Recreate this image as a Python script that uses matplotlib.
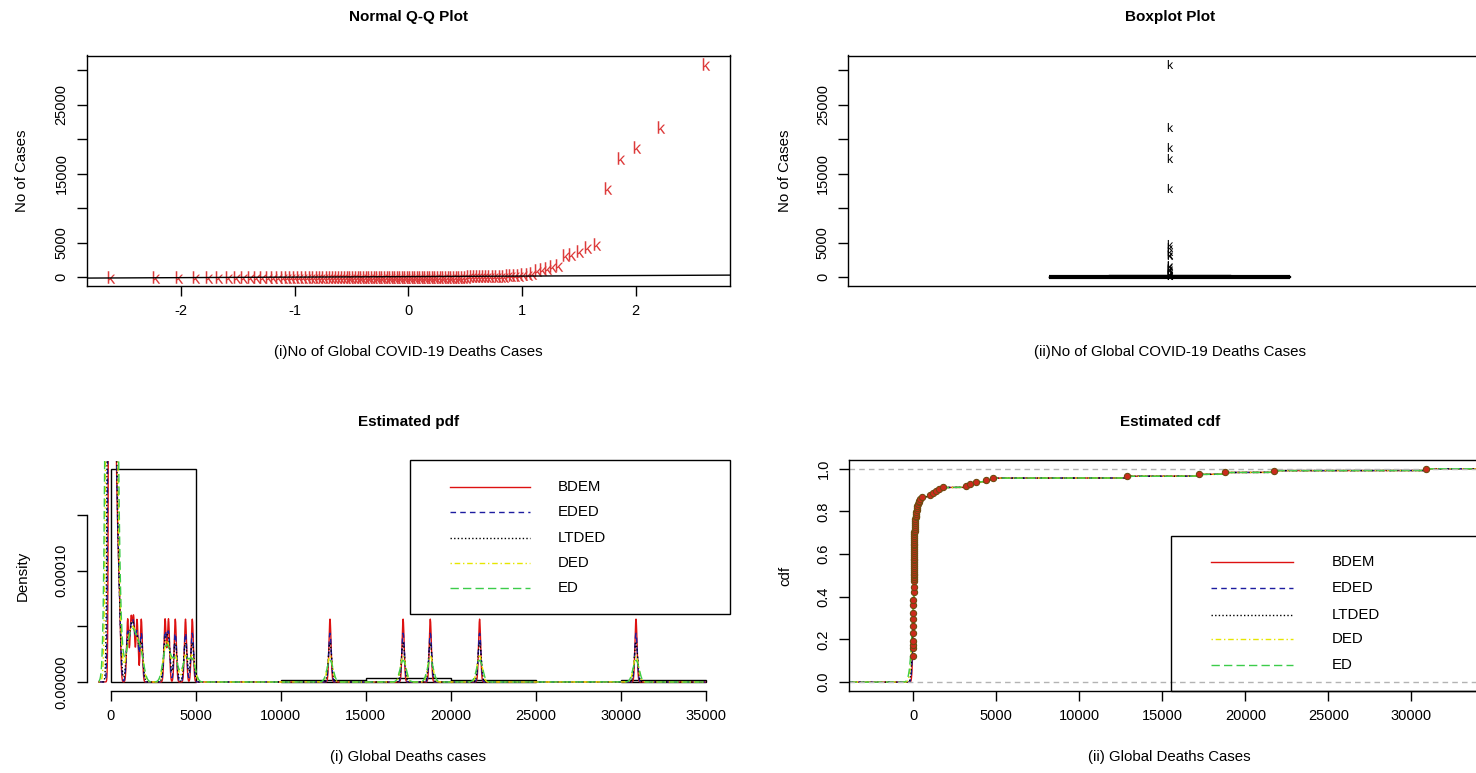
import numpy as np
import matplotlib
matplotlib.use('Agg')
import matplotlib.pyplot as plt
from matplotlib.patches import Rectangle
from math import erf, sqrt

plt.rcParams['font.family'] = ['Liberation Sans', 'DejaVu Sans']
plt.rcParams['axes.linewidth'] = 1.0
plt.rcParams['axes.unicode_minus'] = False
plt.rcParams['mathtext.fontset'] = 'custom'
plt.rcParams['mathtext.rm'] = 'Liberation Sans'

deaths = [0, 0, 0, 0, 0, 0, 0, 0, 0, 0, 0, 0, 0, 0,
          1, 1, 1, 1, 2, 2, 3, 3, 4, 4, 4, 4, 5, 5, 5, 5, 6, 6, 6, 6,
          7, 7, 7, 8, 8, 8, 8, 9, 9, 9, 10, 10, 10, 10, 12, 12, 12, 13, 13, 13,
          14, 15, 16, 17, 18, 19, 20, 21, 22, 24, 25, 27, 28, 30, 32, 34, 36, 38,
          40, 43, 46, 50, 53, 57, 62, 67, 72, 78, 85, 92, 100, 110, 120, 132, 145,
          160, 178, 198, 220, 248, 280, 320, 370, 430, 520,
          1000, 1200, 1350, 1550, 1800,
          3200, 3400, 3800, 4400, 4800,
          12900, 17200, 18800, 21700, 30900]

# estimators shown in pdf / cdf panels
est_names = ['BDEM', 'EDED', 'LTDED', 'DED', 'ED']
est_colors = ['#dd1111', '#1c1ca0', 'black', '#e6e600', '#3ccc4a']
est_styles = ['-', (0, (4, 3)), (0, (1, 1.6)), (0, (1, 2, 4, 2)), (0, (6, 3))]
est_bw = [62, 80, 100, 150, 180]

x = np.array(deaths, dtype=float)
n = len(x)

W, H = 1476, 773
fig = plt.figure(figsize=(W / 100, H / 100), dpi=100)
K = r'$\mathrm{k}$'


def pos(l, t, r, b):
    return [l / W, 1 - b / H, (r - l) / W, (b - t) / H]


def style_ticks(ax):
    ax.tick_params(direction='out', length=7, width=1, pad=6, labelsize=10.5, colors='black')
    for lab in ax.get_yticklabels():
        lab.set_rotation(90)
        lab.set_va('center')


def titles(ax, title, xlab, ylab, ylx):
    ax.text(0.5, 1.167, title, transform=ax.transAxes, ha='center', va='center',
            fontsize=11, fontweight='bold')
    ax.set_xlabel(xlab, fontsize=10.8, va='center')
    ax.xaxis.set_label_coords(0.5, -0.289)
    ax.set_ylabel(ylab, fontsize=10.8, va='center')
    ax.yaxis.set_label_coords(ylx, 0.5)


def draw_key(ax, box, xs, xt, rows):
    x0, y0, x1, y1 = box
    ax.add_patch(Rectangle((x0, y0), x1 - x0, y1 - y0, transform=ax.transAxes,
                           fill=False, ec='black', lw=1, clip_on=False, zorder=5))
    for name, col, ls, yy in zip(est_names, est_colors, est_styles, rows):
        ax.plot(xs, [yy, yy], transform=ax.transAxes, color=col, ls=ls, lw=1,
                clip_on=False, zorder=5)
        ax.text(xt, yy, name, transform=ax.transAxes, ha='left', va='center',
                fontsize=10.8, zorder=5)


def kde(grid, h):
    z = (grid[:, None] - x[None, :]) / h
    return np.exp(-0.5 * z ** 2).sum(axis=1) / (n * h * np.sqrt(2 * np.pi))


def qnorm(pp):
    lo, hi = -10.0, 10.0
    for _ in range(80):
        mid = (lo + hi) / 2
        if 0.5 * (1 + erf(mid / sqrt(2))) < pp:
            lo = mid
        else:
            hi = mid
    return (lo + hi) / 2


yticks = [0, 5000, 10000, 15000, 20000, 25000, 30000]
ylabels = ['0', '5000', '', '15000', '', '25000', '']
ypad = (x.max() - x.min()) * 0.04

# ---------------- Normal Q-Q plot ----------------
ax1 = fig.add_axes(pos(86.7, 55.5, 730, 285.5))
xs = np.sort(x)
p = (np.arange(1, n + 1) - 0.5) / n
theo = np.array([qnorm(v) for v in p])
ax1.plot(theo, xs, ls='none', marker=K, ms=9, mew=0, color='#dd3a3a')
q1, q3 = np.percentile(x, [25, 75])
z1, z3 = qnorm(0.25), qnorm(0.75)
slope = (q3 - q1) / (z3 - z1)
ax1.axline((0, q1 - slope * z1), slope=slope, color='black', lw=1)
tr = theo.max() - theo.min()
ax1.set_xlim(theo.min() - 0.04 * tr, theo.max() + 0.04 * tr)
ax1.set_ylim(x.min() - ypad, x.max() + ypad)
ax1.set_xticks([-2, -1, 0, 1, 2])
ax1.set_yticks(yticks)
ax1.set_yticklabels(ylabels)
style_ticks(ax1)
titles(ax1, 'Normal Q-Q Plot', '(i)No of Global COVID-19 Deaths Cases', 'No of Cases', -0.1006)

# ---------------- Boxplot ----------------
ax2 = fig.add_axes(pos(848, 55.5, 1491.3, 285.5))
bp = ax2.boxplot(x, positions=[1], widths=0.375, whis=1.5,
                 boxprops=dict(color='black', lw=1),
                 medianprops=dict(color='black', lw=3),
                 whiskerprops=dict(color='black', lw=1, ls='--'),
                 capprops=dict(color='black', lw=1),
                 flierprops=dict(marker=K, ms=6.5, mew=0, mfc='black', mec='black', ls='none'))
ax2.set_xlim(0.5, 1.5)
ax2.set_ylim(x.min() - ypad, x.max() + ypad)
ax2.set_xticks([])
ax2.set_yticks(yticks)
ax2.set_yticklabels(ylabels)
style_ticks(ax2)
titles(ax2, 'Boxplot Plot', '(ii)No of Global COVID-19 Deaths Cases', 'No of Cases', -0.098)

# ---------------- Estimated pdf ----------------
ax3 = fig.add_axes(pos(86.9, 460.5, 729.5, 690.5))
breaks = np.arange(0, 35001, 5000)
dens, _ = np.histogram(x, bins=breaks, density=True)
keep = dens > 0
ax3.bar(breaks[:-1][keep], dens[keep], width=5000, align='edge', fill=False,
        edgecolor='black', lw=1)
dmax = dens.max()
grid = np.arange(-700, 35000, 20.0)
for col, ls, h in zip(est_colors, est_styles, est_bw):
    ax3.plot(grid, kde(grid, h), color=col, ls=ls, lw=1)
ax3.set_xlim(-0.04 * 35000, 35000 * 1.04)
ax3.set_ylim(-0.04 * dmax, 1.04 * dmax)
for s in ['top', 'right']:
    ax3.spines[s].set_visible(False)
ax3.spines['bottom'].set_bounds(0, 35000)
ax3.spines['left'].set_bounds(0, 0.00015)
ax3.set_xticks(breaks)
ax3.set_yticks([0, 0.00005, 0.0001, 0.00015])
ax3.set_yticklabels(['0.00000', '', '0.00010', ''])
style_ticks(ax3)
titles(ax3, 'Estimated pdf', '(i) Global Deaths cases', 'Density', -0.1006)
draw_key(ax3, (0.503, 0.3326, 1.0, 1.0), [0.565, 0.6893], 0.7332,
         [0.8848, 0.776, 0.663, 0.554, 0.4457])

# ---------------- Estimated cdf ----------------
ax4 = fig.add_axes(pos(848.5, 460.2, 1491.1, 690.7))
dr = 0.08 * (x.max() - x.min())
lo, hi = x.min() - dr, x.max() + dr
span = hi - lo
xl = (lo - 0.04 * span, hi + 0.04 * span)
cgrid = np.arange(xl[0], xl[1], 10.0)
for col, ls, h in zip(est_colors, est_styles, est_bw):
    cdf = np.cumsum(kde(cgrid, h)) * 10.0
    ax4.plot(cgrid, cdf / cdf[-1], color=col, ls=ls, lw=1)
ax4.axhline(0, color='#b3b3b3', ls=(0, (4, 3)), lw=1)
ax4.axhline(1, color='#b3b3b3', ls=(0, (4, 3)), lw=1)
uv, uc = np.unique(x, return_counts=True)
ax4.plot(uv, np.cumsum(uc) / n, 'o', ms=4.5, mfc='#cc2a1c', mec='#6e4a10', mew=0.8, zorder=4)
ax4.set_xlim(*xl)
ax4.set_ylim(-0.04, 1.04)
ax4.set_xticks(np.arange(0, 30001, 5000))
ax4.set_yticks([0, 0.2, 0.4, 0.6, 0.8, 1.0])
ax4.set_yticklabels(['0.0', '0.2', '0.4', '0.6', '0.8', '1.0'])
style_ticks(ax4)
titles(ax4, 'Estimated cdf', '(ii) Global Deaths Cases', 'cdf', -0.098)
draw_key(ax4, (0.5019, 0.0, 1.0, 0.6706), [0.5641, 0.6912], 0.7524,
         [0.5563, 0.4439, 0.3281, 0.2228, 0.1114])

fig.savefig('out.png', dpi=100)
